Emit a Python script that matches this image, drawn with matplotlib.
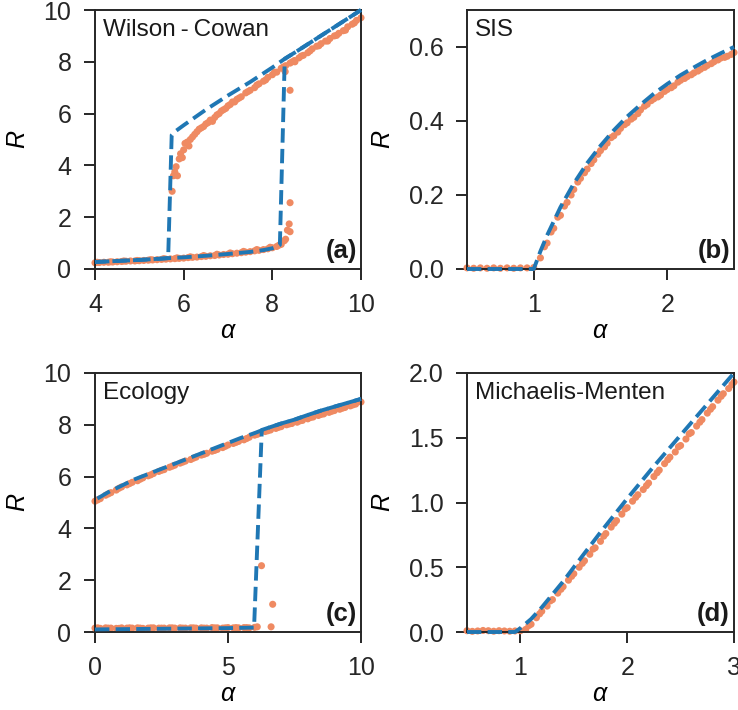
import matplotlib
matplotlib.use("Agg")
import matplotlib.pyplot as plt

# ---------------- data ----------------
# (a) Wilson-Cowan
wc_fwd_alpha = [4.0, 4.5, 5.0, 5.5, 5.65, 6.0, 6.5, 7.0, 7.5, 7.8, 8.0, 8.1, 8.17, 8.28, 8.5, 9.0, 9.5, 10.0]
wc_fwd_R = [0.27, 0.31, 0.35, 0.40, 0.42, 0.45, 0.51, 0.58, 0.66, 0.73, 0.80, 0.86, 0.93, 8.12, 8.35, 8.9, 9.45, 10.0]
wc_bwd_alpha = [10.0, 9.5, 9.0, 8.5, 8.25, 8.0, 7.5, 7.0, 6.5, 6.0, 5.8, 5.73, 5.65, 5.5, 5.0, 4.5, 4.0]
wc_bwd_R = [10.0, 9.45, 8.9, 8.35, 8.08, 7.78, 7.22, 6.7, 6.15, 5.55, 5.3, 5.17, 0.42, 0.40, 0.35, 0.31, 0.27]

wc_sim_alpha = [4.0, 4.1, 4.2, 4.3, 4.4, 4.5, 4.6, 4.7, 4.8, 4.9, 5.0, 5.1, 5.2, 5.3, 5.4, 5.5, 5.6, 5.7,
                5.8, 5.9, 6.0, 6.1, 6.2, 6.3, 6.4, 6.5, 6.6, 6.7, 6.8, 6.9, 7.0, 7.1, 7.2, 7.3, 7.4, 7.5,
                7.6, 7.7, 7.8, 7.9, 8.0, 8.1, 8.2,
                4.05, 4.35, 4.65, 4.95, 5.25, 5.55, 5.85, 6.15, 6.45, 6.75, 7.05, 7.35, 7.65, 7.95, 8.15,
                8.27, 8.3, 8.34, 8.38, 8.4, 8.4, 8.4, 8.29, 8.51,
                5.74, 5.77, 5.8, 5.83, 5.86, 5.9, 5.93, 5.97, 6.0, 6.03, 6.08, 6.12, 6.15, 6.2, 6.25,
                6.3, 6.35, 6.4, 6.45, 6.5, 6.55, 6.6, 6.65, 6.7, 6.75, 6.8, 6.85, 6.9, 6.95, 7.0, 7.05,
                7.1, 7.15, 7.2, 7.3, 7.4, 7.5, 7.6, 7.7, 7.8, 7.9, 8.0, 8.1, 8.2, 8.3, 8.4, 8.5, 8.6,
                8.7, 8.8, 8.9, 9.0, 9.1, 9.2, 9.3, 9.4, 9.5, 9.6, 9.7, 9.8, 9.9, 10.0,
                7.25, 7.45, 7.65, 7.85, 8.05, 8.25, 8.45, 8.65, 8.85, 9.05, 9.25, 9.45, 9.65, 9.85]
wc_sim_R = [0.24, 0.25, 0.26, 0.26, 0.27, 0.28, 0.29, 0.30, 0.31, 0.31, 0.32, 0.33, 0.34, 0.35, 0.36, 0.37, 0.38, 0.39,
            0.40, 0.41, 0.42, 0.44, 0.45, 0.46, 0.48, 0.49, 0.51, 0.52, 0.54, 0.56, 0.57, 0.59, 0.61, 0.63, 0.65, 0.67,
            0.70, 0.72, 0.75, 0.78, 0.82, 0.87, 0.95,
            0.26, 0.28, 0.31, 0.33, 0.36, 0.40, 0.43, 0.47, 0.52, 0.57, 0.62, 0.68, 0.75, 0.84, 0.92,
            1.09, 1.15, 1.50, 1.74, 1.44, 2.56, 6.90, 7.62, 8.0,
            3.0, 3.6, 3.75, 3.95, 3.6, 4.25, 4.45, 4.3, 4.6, 4.85, 4.9, 4.75, 5.0, 5.1, 5.2,
            5.3, 5.4, 5.45, 5.5, 5.6, 5.65, 5.75, 5.7, 5.85, 5.95, 6.0, 6.1, 6.15, 6.2, 6.3, 6.35,
            6.45, 6.45, 6.55, 6.65, 6.8, 6.9, 7.0, 7.15, 7.25, 7.4, 7.5, 7.6, 7.75, 7.85, 7.95, 8.05, 8.15,
            8.25, 8.35, 8.5, 8.6, 8.7, 8.8, 8.9, 9.0, 9.1, 9.2, 9.35, 9.45, 9.6, 9.7,
            6.6, 6.85, 7.1, 7.3, 7.6, 7.8, 8.0, 8.22, 8.42, 8.62, 8.8, 9.02, 9.22, 9.5]

# (b) SIS
sis_alpha = [0.5, 0.6, 0.7, 0.8, 0.9, 1.0, 1.05, 1.1, 1.2, 1.3, 1.4, 1.5, 1.6, 1.7, 1.8, 1.9, 2.0, 2.1, 2.2, 2.3, 2.4, 2.5]
sis_R = [0.0, 0.0, 0.0, 0.0, 0.0, 0.0, 0.048, 0.091, 0.167, 0.231, 0.286, 0.333, 0.375, 0.412, 0.444, 0.474,
         0.5, 0.524, 0.545, 0.565, 0.583, 0.6]
sis_sim_alpha = [0.5, 0.55, 0.6, 0.65, 0.7, 0.75, 0.8, 0.85, 0.9, 0.95, 1.0, 1.05, 1.1, 1.15, 1.2, 1.25, 1.3,
                 1.35, 1.4, 1.45, 1.5, 1.55, 1.6, 1.65, 1.7, 1.75, 1.8, 1.85, 1.9, 1.95, 2.0, 2.05, 2.1, 2.15,
                 2.2, 2.25, 2.3, 2.35, 2.4, 2.45, 2.5,
                 1.08, 1.13, 1.18, 1.23, 1.28, 1.33, 1.38, 1.43, 1.48, 1.53, 1.58, 1.63, 1.68, 1.73, 1.78,
                 1.83, 1.88, 1.93, 1.98, 2.03, 2.08, 2.13, 2.18, 2.23, 2.28, 2.33, 2.38, 2.43, 2.48]
sis_sim_R = [0.003, 0.002, 0.003, 0.002, 0.003, 0.002, 0.003, 0.002, 0.003, 0.003, 0.004, 0.03, 0.07, 0.11,
             0.145, 0.18, 0.215, 0.245, 0.27, 0.295, 0.32, 0.34, 0.36, 0.38, 0.395, 0.41, 0.43, 0.445, 0.46,
             0.47, 0.485, 0.495, 0.51, 0.52, 0.53, 0.54, 0.55, 0.56, 0.57, 0.575, 0.585,
             0.06, 0.10, 0.14, 0.17, 0.2, 0.235, 0.26, 0.285, 0.31, 0.33, 0.355, 0.37, 0.39, 0.405, 0.42,
             0.44, 0.455, 0.465, 0.48, 0.49, 0.505, 0.515, 0.525, 0.535, 0.545, 0.555, 0.565, 0.572, 0.58]

# (c) Ecology
eco_fwd_alpha = [0.0, 1.0, 2.0, 3.0, 4.0, 5.0, 5.98, 6.27, 6.5, 7.0, 7.5, 8.0, 8.5, 9.0, 9.5, 10.0]
eco_fwd_R = [0.10, 0.11, 0.12, 0.13, 0.14, 0.15, 0.17, 7.8, 7.88, 8.05, 8.2, 8.38, 8.55, 8.7, 8.85, 9.0]
eco_bwd_alpha = [10.0, 9.5, 9.0, 8.5, 8.0, 7.5, 7.0, 6.5, 6.0, 5.5, 5.0, 4.5, 4.0, 3.5, 3.0, 2.5, 2.0, 1.5,
                 1.0, 0.5, 0.0]
eco_bwd_R = [9.0, 8.85, 8.7, 8.55, 8.38, 8.2, 8.05, 7.88, 7.68, 7.5, 7.3, 7.1, 6.9, 6.7, 6.5, 6.3, 6.1, 5.9,
             5.65, 5.4, 5.1]
eco_sim_alpha = [0.0, 0.2, 0.4, 0.6, 0.8, 1.0, 1.2, 1.4, 1.6, 1.8, 2.0, 2.2, 2.4, 2.6, 2.8, 3.0, 3.2, 3.4,
                 3.6, 3.8, 4.0, 4.2, 4.4, 4.6, 4.8, 5.0, 5.2, 5.4, 5.6, 5.8, 6.0, 6.1,
                 6.26, 6.68, 6.62,
                 0.0, 0.2, 0.4, 0.6, 0.8, 1.0, 1.2, 1.4, 1.6, 1.8, 2.0, 2.2, 2.4, 2.6, 2.8, 3.0, 3.2, 3.4,
                 3.6, 3.8, 4.0, 4.2, 4.4, 4.6, 4.8, 5.0, 5.2, 5.4, 5.6, 5.8, 6.0, 6.2, 6.4, 6.6, 6.8, 7.0,
                 7.2, 7.4, 7.6, 7.8, 8.0, 8.2, 8.4, 8.6, 8.8, 9.0, 9.2, 9.4, 9.6, 9.8, 10.0,
                 0.1, 0.5, 0.9, 1.3, 1.7, 2.1, 2.5, 2.9, 3.3, 3.7, 4.1, 4.5, 4.9, 5.3, 5.7,
                 0.1, 0.5, 0.9, 1.3, 1.7, 2.1, 2.5, 2.9, 3.3, 3.7, 4.1, 4.5, 4.9, 5.3, 5.7, 6.1, 6.5,
                 6.9, 7.3, 7.7, 8.1, 8.5, 8.9, 9.3, 9.7]
eco_sim_R = [0.15, 0.14, 0.16, 0.15, 0.14, 0.16, 0.15, 0.15, 0.16, 0.14, 0.15, 0.16, 0.15, 0.15, 0.16, 0.15,
             0.16, 0.15, 0.16, 0.15, 0.16, 0.15, 0.17, 0.16, 0.15, 0.17, 0.16, 0.16, 0.17, 0.16, 0.18, 0.2,
             2.56, 1.07, 0.2,
             5.05, 5.15, 5.28, 5.38, 5.48, 5.6, 5.68, 5.78, 5.84, 5.95, 6.03, 6.12, 6.2, 6.27, 6.36, 6.44,
             6.52, 6.6, 6.66, 6.75, 6.83, 6.9, 6.98, 7.05, 7.12, 7.22, 7.28, 7.36, 7.42, 7.52, 7.6, 7.68,
             7.74, 7.8, 7.86, 7.93, 8.0, 8.05, 8.1, 8.17, 8.23, 8.3, 8.36, 8.42, 8.48, 8.55, 8.6, 8.67,
             8.73, 8.8, 8.88,
             0.16, 0.15, 0.14, 0.16, 0.15, 0.16, 0.15, 0.16, 0.15, 0.16, 0.15, 0.16, 0.16, 0.17, 0.17,
             5.1, 5.33, 5.55, 5.73, 5.9, 6.07, 6.24, 6.4, 6.56, 6.71, 6.86, 7.01, 7.17, 7.32, 7.47, 7.63,
             7.77, 7.9, 8.03, 8.15, 8.28, 8.4, 8.52, 8.64, 8.77]

# (d) Michaelis-Menten
mm_alpha = [0.5, 0.6, 0.7, 0.8, 0.9, 0.95, 1.0, 1.1, 1.2, 1.3, 1.4, 1.5, 1.75, 2.0, 2.25, 2.5, 2.75, 3.0]
mm_R = [0.0, 0.0, 0.0, 0.0, 0.0, 0.0, 0.03, 0.1, 0.19, 0.29, 0.39, 0.5, 0.77, 1.03, 1.28, 1.52, 1.76, 2.0]
mm_sim_alpha = [0.5, 0.55, 0.6, 0.65, 0.7, 0.75, 0.8, 0.85, 0.9, 0.95, 1.0, 1.05, 1.1, 1.15, 1.2, 1.25,
                1.3, 1.35, 1.4, 1.45, 1.5, 1.55, 1.6, 1.65, 1.7, 1.75, 1.8, 1.85, 1.9, 1.95, 2.0, 2.05,
                2.1, 2.15, 2.2, 2.25, 2.3, 2.35, 2.4, 2.45, 2.5, 2.55, 2.6, 2.65, 2.7, 2.75, 2.8, 2.85,
                2.9, 2.95, 3.0,
                1.08, 1.18, 1.28, 1.38, 1.48, 1.58, 1.68, 1.78, 1.88, 1.98, 2.08, 2.18, 2.28, 2.38, 2.48,
                2.58, 2.68, 2.78, 2.88, 2.98]
mm_sim_R = [0.01, 0.005, 0.008, 0.012, 0.01, 0.006, 0.01, 0.008, 0.006, 0.008, 0.01, 0.02, 0.06, 0.11,
            0.16, 0.2, 0.25, 0.3, 0.35, 0.4, 0.45, 0.5, 0.55, 0.6, 0.65, 0.7, 0.76, 0.81, 0.86, 0.91,
            0.96, 1.01, 1.06, 1.1, 1.15, 1.2, 1.25, 1.3, 1.35, 1.39, 1.44, 1.49, 1.54, 1.59, 1.64, 1.69,
            1.74, 1.79, 1.84, 1.88, 1.93,
            0.05, 0.14, 0.24, 0.33, 0.43, 0.53, 0.64, 0.74, 0.84, 0.95, 1.04, 1.13, 1.23, 1.33, 1.43,
            1.53, 1.62, 1.72, 1.82, 1.91]

# ---------------- style ----------------
plt.rcParams.update({
    "font.family": ["Liberation Sans", "DejaVu Sans"],
    "mathtext.fontset": "custom",
    "mathtext.it": "Liberation Sans:italic",
    "mathtext.rm": "Liberation Sans",
    "font.size": 18,
    "axes.edgecolor": "#262626",
    "axes.linewidth": 1.4,
    "xtick.color": "#262626",
    "ytick.color": "#262626",
    "xtick.major.size": 8,
    "ytick.major.size": 8,
    "xtick.major.width": 1.4,
    "ytick.major.width": 1.4,
    "xtick.major.pad": 9,
    "ytick.major.pad": 9,
    "text.color": "#1a1a1a",
})

BLUE = "#1f77b4"
ORANGE = "#ef8a62"

W, H = 738, 710
fig = plt.figure(figsize=(W / 100, H / 100), dpi=100)

def axbox(l, t, r, b):
    return [l / W, 1 - b / H, (r - l) / W, (b - t) / H]

ax_a = fig.add_axes(axbox(95, 10, 361, 269))
ax_b = fig.add_axes(axbox(467, 10, 734, 269))
ax_c = fig.add_axes(axbox(95, 373, 361, 632))
ax_d = fig.add_axes(axbox(467, 373, 734, 632))

panels = [
    (ax_a, wc_sim_alpha, wc_sim_R, [(wc_fwd_alpha, wc_fwd_R), (wc_bwd_alpha, wc_bwd_R)],
     (4, 10), (0, 10), [4, 6, 8, 10], [0, 2, 4, 6, 8, 10], "Wilson\u2009-\u2009Cowan", "(a)", "{:g}"),
    (ax_b, sis_sim_alpha, sis_sim_R, [(sis_alpha, sis_R)],
     (0.5, 2.5), (0, 0.7), [1, 2], [0.0, 0.2, 0.4, 0.6], "SIS", "(b)", "{:.1f}"),
    (ax_c, eco_sim_alpha, eco_sim_R, [(eco_fwd_alpha, eco_fwd_R), (eco_bwd_alpha, eco_bwd_R)],
     (0, 10), (0, 10), [0, 5, 10], [0, 2, 4, 6, 8, 10], "Ecology", "(c)", "{:g}"),
    (ax_d, mm_sim_alpha, mm_sim_R, [(mm_alpha, mm_R)],
     (0.5, 3), (0, 2), [1, 2, 3], [0.0, 0.5, 1.0, 1.5, 2.0], "Michaelis-Menten", "(d)", "{:.1f}"),
]

for ax, sx, sy, lines, xl, yl, xt, yt, name, tag, yfmt in panels:
    ax.scatter(sx, sy, s=26, color=ORANGE, edgecolors="none", zorder=2, clip_on=False)
    for lx, ly in lines:
        ax.plot(lx, ly, "--", color=BLUE, lw=2.8, zorder=3, clip_on=False)
    ax.set_xlim(*xl)
    ax.set_ylim(*yl)
    ax.set_xticks(xt)
    ax.set_yticks(yt)
    ax.set_yticklabels([yfmt.format(v) for v in yt])
    ax.set_xlabel(r"$\alpha$", labelpad=2)
    ax.set_ylabel(r"$R$", labelpad=10)
    ax.text(0.03, 0.965, name, transform=ax.transAxes, ha="left", va="top", fontsize=17.5)
    ax.text(0.985, 0.022, tag, transform=ax.transAxes, ha="right", va="bottom",
            fontsize=18.5, fontweight="bold")

fig.savefig("out.png", dpi=100)
